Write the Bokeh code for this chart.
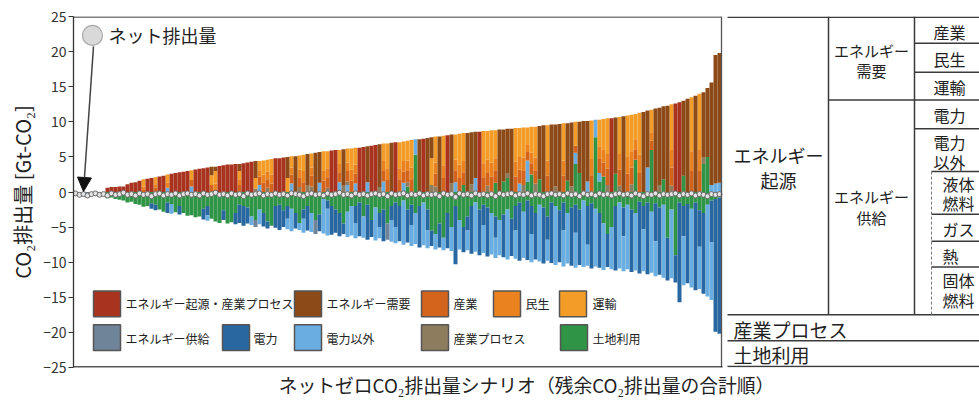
from bokeh.plotting import figure
from bokeh.models import Range1d, ColumnDataSource, FixedTicker, Arrow, NormalHead
from bokeh.embed import file_html
from bokeh.resources import INLINE
from bokeh.core.properties import value

FONT = "Noto Sans CJK JP"

# ---------------- data (Gt-CO2), scenarios sorted by residual emissions ----------------
# positive (residual) emissions
EIP = [0,0,0,0,0,0,0,0,.6,.7,
       .7,.8,.8,1.1,1.3,1.4,1.6,0,1.9,2.0,
       0,2.2,2.3,0,2.6,2.7,2.8,2.9,3.0,0,
       3.2,3.3,3.4,3.5,0,0,3.7,3.8,3.9,3.9,
       4.0,0,4.1,4.2,4.3,0,0,0,0,0,
       4.8,4.8,4.9,0,0,0,0,0,0,0,
       0,0,0,0,5.9,6.0,0,0,0,0,
       0,6.3,6.4,0,6.6,6.7,0,0,0,0,
       7.1,0,0,0,0,0,0,7.6,0,0,
       0,0,0,8.1,0,0,0,0,0,0,
       0,8.6,0,0,0,0,0,0,0,0,
       0,0,0,0,0,0,0,0,0,0,
       0,0,0,0,0,0,0,0,0,0,
       0,0,0,0,10.5,0,0,0,0,0,
       0,0,0,0,0,0,0,0,0,0,
       12.6,12.8,0,0,0,0,0,0,0,0,
       0,0]
ED = [0,0,0,0,0,0,0,0,0,0,
      0,0,0,0,0,0,0,0,0,0,
      0,0,0,0,0,0,0,0,0,0,
      0,0,0,0,1.2,.6,0,0,0,0,
      0,1.0,0,0,0,2.4,0,0,0,0,
      0,0,0,3.0,0,5.1,0,0,4.4,0,
      5.6,4.4,0,0,0,0,0,5.2,0,0,
      0,0,0,5.1,0,0,6.1,0,0,7.0,
      0,0,0,0,0,0,7.5,0,7.7,3.0,
      0,7.9,0,0,7.0,0,0,0,8.4,7.4,
      6.6,0,0,0,0,0,8.9,7.4,6.3,9.0,
      0,0,0,0,0,0,7.6,9.5,0,9.6,
      8.8,9.7,0,8.2,9.1,0,7.3,10.1,8.6,0,
      0,0,0,0,0,8.0,0,10.8,0,0,
      0,0,11.4,8.1,0,11.9,11.0,10.4,12.3,0,
      0,0,10.7,13.3,0,13.7,0,9.2,9.8,14.6,
      18.3,18.5]
IND = [0,0,0,0,0,0,0,0,0,0,
       0,0,0,0,0,0,0,.3,0,0,
       .6,0,0,0,0,0,0,0,0,.9,
       0,0,0,0,1.0,0,0,0,0,0,
       0,1.0,0,0,0,0,1.2,1.3,1.2,1.2,
       0,0,0,0,1.3,0,1.4,1.4,0,1.5,
       0,0,1.6,1.5,0,0,1.4,0,1.5,1.6,
       1.4,0,0,0,0,0,0,1.5,1.7,0,
       0,1.8,1.6,1.7,1.8,0,0,0,0,0,
       1.8,0,2.0,0,0,1.7,2.0,1.8,0,0,
       0,0,2.1,1.9,2.2,1.8,0,0,0,0,
       2.2,2.0,2.0,1.2,1.6,1.9,0,0,2.3,0,
       0,0,2.3,0,0,1.0,0,0,0,2.4,
       0,2.0,2.0,2.3,0,0,2.3,0,2.6,2.4,
       1.5,2.7,0,0,1.3,0,0,0,0,2.6,
       0,0,0,0,3.0,0,3.0,0,0,0,
       0,0]
RES = [0,0,0,0,0,0,0,0,0,0,
       0,0,0,0,0,0,0,.5,0,0,
       .5,0,0,.7,0,0,0,0,0,0,
       0,0,0,0,0,1.2,0,0,0,0,
       0,.8,0,0,0,0,.9,1.2,1.1,1.3,
       0,0,0,0,1.0,0,1.1,1.6,0,1.2,
       0,0,1.5,1.3,0,0,1.2,0,1.2,1.6,
       1.3,0,0,0,0,0,0,1.4,1.7,0,
       0,1.6,1.5,1.4,1.7,0,0,0,0,0,
       1.6,0,1.8,0,0,1.5,1.9,1.6,0,0,
       0,0,2.0,1.8,2.0,1.7,0,0,0,0,
       2.1,1.8,1.9,1.0,1.5,1.8,0,0,2.2,0,
       0,0,2.2,0,0,0,0,0,0,2.3,
       0,1.8,1.8,2.1,0,0,2.2,0,2.5,2.3,
       1.4,2.6,0,0,1.2,0,0,0,0,2.5,
       0,0,0,0,2.8,0,3.0,0,0,0,
       0,0]
TRA = [0,0,0,0,0,0,0,0,0,0,
       0,0,0,0,0,0,0,1.0,0,0,
       1.0,0,0,1.2,0,0,0,0,0,1.4,
       0,0,0,0,1.4,1.8,0,0,0,0,
       0,1.2,0,0,0,1.5,1.3,2.0,1.7,2.2,
       0,0,0,2.0,1.6,0,2.0,2.3,0,2.0,
       0,0,2.7,2.4,0,0,2.0,0,2.0,3.0,
       2.4,0,0,0,0,0,0,2.5,3.5,0,
       0,3.7,2.8,2.8,3.9,0,0,0,0,3.8,
       3.7,0,4.2,0,0,3.6,4.4,4.0,0,0,
       0,0,4.6,4.1,4.6,4.0,0,0,0,0,
       4.8,4.1,4.3,2.5,3.7,4.4,0,0,5.0,0,
       0,0,5.3,0,0,3.4,0,0,0,5.5,
       0,3.8,4.4,5.1,0,0,5.3,0,5.8,5.2,
       3.6,6.0,0,0,3.2,0,0,0,0,6.5,
       0,0,0,0,7.7,0,8.0,0,0,0,
       0,0]
IP = [0,0,0,0,0,0,0,0,0,0,
      0,0,0,0,0,0,0,0,0,0,
      0,0,0,0,0,0,0,0,0,0,
      0,0,0,0,0,0,0,0,0,0,
      0,0,0,0,0,.5,0,0,.6,0,
      0,0,0,0,0,0,.7,0,1.0,.8,
      0,0,0,.6,0,0,0,.9,.5,0,
      0,0,0,0,0,0,.7,0,0,0,
      0,0,0,.6,0,0,0,0,0,1.0,
      .8,0,0,0,1.2,0,0,0,0,1.1,
      0,0,0,.9,0,0,0,0,.7,0,
      0,0,1.0,0,0,1.2,0,0,0,0,
      .8,0,0,0,.8,0,0,0,0,0,
      0,0,0,1.0,0,0,.9,0,0,1.1,
      0,0,0,0,0,0,1.0,0,0,.9,
      0,0,0,0,0,0,0,1.0,0,0,
      0,0]
NEL_POS = [0,0,0,0,0,0,0,0,0,0,
           0,0,0,0,0,0,0,0,0,0,
           0,0,0,.6,0,0,0,0,0,.8,
           0,0,0,0,0,0,0,0,0,0,
           0,0,0,0,0,0,1.0,0,0,0,
           0,0,0,0,1.2,0,0,0,0,0,
           0,1.3,0,0,0,0,1.4,0,1.0,0,
           1.2,0,0,1.4,0,0,0,1.5,0,0,
           0,0,1.3,0,0,2.2,0,0,0,0,
           0,0,0,0,0,1.4,0,0,0,0,
           2.0,0,0,0,0,0,0,0,0,0,
           0,1.2,0,3.0,0,0,0,0,0,0,
           0,0,0,0,0,1.6,0,0,1.5,0,
           2.5,1.2,0,0,0,0,0,0,0,0,
           0,0,0,3.5,0,0,0,0,0,0,
           0,0,0,0,0,0,0,0,0,1.0,
           1.2,1.3]
LU_POS = [0,0,0,0,0,0,0,0,0,0,
          0,0,0,0,0,0,0,0,0,0,
          0,0,0,0,0,0,0,0,0,0,
          0,0,0,0,0,0,0,0,0,0,
          0,0,0,0,0,0,0,0,0,0,
          0,0,0,0,0,0,0,0,0,0,
          0,0,0,0,0,0,0,0,0,0,
          0,0,0,0,0,0,0,0,0,0,
          0,0,0,.8,0,5.3,0,0,0,0,
          0,0,0,0,0,0,0,1.0,0,0,
          0,0,0,0,0,1.3,0,1.5,2.0,0,
          0,0,0,1.5,2.5,0,1.8,0,0,0,
          0,0,0,1.6,0,4.0,2.7,0,0,0,
          7.8,1.5,2.2,0,0,2.6,0,0,0,0,
          4.6,0,0,0,6.0,0,0,1.8,0,0,
          0,0,2.3,0,0,0,0,4.0,5.0,0,
          0,0]
# removals (magnitudes, drawn below zero)
LU_NEG = [0,0,0,0,0,0,0,0,.9,.8,
          1.0,1.1,1.2,1.5,1.4,1.7,1.8,2.1,2.0,1.6,
          1.8,2.5,2.8,1.5,1.7,2.9,2.0,3.0,3.4,3.3,
          3.6,3.5,2.4,2.0,3.8,4.2,4.4,2.6,4.5,4.3,
          3.0,1.8,2.0,2.2,3.5,4.0,2.5,3.0,4.2,4.8,
          2.0,1.8,2.6,2.0,2.4,3.0,4.4,2.5,2.0,3.0,
          4.0,3.2,1.0,1.2,2.0,2.5,3.0,4.5,2.8,2.0,
          2.0,1.5,3.5,1.8,4.0,2.2,3.0,2.5,4.5,2.0,
          1.5,2.0,1.2,2.5,1.8,3.0,2.0,1.5,2.5,5.5,
          6.0,4.5,6.5,3.0,5.0,2.0,4.0,5.0,3.5,2.0,
          1.5,2.5,1.8,2.2,3.0,3.5,4.0,3.2,2.5,3.8,
          2.0,1.5,2.8,1.2,2.0,3.0,1.8,2.2,3.5,1.5,
          2.0,2.6,1.5,3.0,2.2,1.8,2.5,1.2,2.0,1.6,
          2.4,3.0,4.5,6.0,5.0,2.0,1.5,2.2,1.8,2.5,
          3.0,1.4,2.0,1.5,2.8,1.6,2.2,1.8,6.5,2.5,
          9.0,1.5,2.0,1.7,2.4,1.5,2.6,3.0,1.8,1.2,
          1.0,0.8]
ELC_NEG = [0,0,0,0,0,0,0,0,0,0,
           0,0,0,0,0,0,0,0,0,.8,
           .8,0,0,1.5,0,0,1.2,0,0,0,
           0,0,1.5,1.3,0,0,0,1.4,0,0,
           1.6,2.6,2.8,2.3,0,0,0,1.9,1.0,0,
           3.1,3.6,2.4,1.8,0,2.2,0,1.3,3.5,0,
           0,2.4,0,1.2,4.1,3.3,3.3,1.5,0,0,
           2.4,4.8,0,5.0,2.4,0,2.0,4.5,0,2.0,
           3.5,5.0,0,4.7,2.9,0,5.9,0,3.0,2.2,
           0,3.4,0,5.0,0,8.3,0,3.6,2.0,6.8,
           0,6.5,2.9,7.0,0,3.0,0,6.1,0,5.3,
           3.5,8.3,0,8.5,4.0,6.6,0,8.0,3.3,8.6,
           0,7.4,4.0,0,8.3,4.0,7.9,0,5.5,9.3,
           0,7.8,0,4.7,0,9.2,0,4.1,0,8.9,
           0,10.2,3.3,10.2,0,5.4,9.6,0,6.1,0,
           3.9,14.2,4.3,11.3,0,12.5,5.2,11.5,0,6.0,
           18.9,19.4]
NEL_NEG = [0,0,0,0,0,0,0,0,0,0,
           0,0,0,0,0,0,0,0,0,0,
           0,0,0,0,1.4,0,0,0,0,0,
           0,0,0,.8,0,0,0,0,0,0,
           0,0,0,0,1.2,0,2.1,0,0,0,
           0,0,0,1.5,3.2,0,1.0,2.0,0,2.7,
           0,0,4.9,3.8,0,0,0,0,3.6,4.2,
           2.2,0,3.0,0,0,4.7,1.6,0,0,3.1,
           2.3,0,6.3,0,3.0,4.4,0,6.1,2.5,0,
           2.2,0,1.8,0,3.4,0,4.2,0,2.8,0,
           7.0,0,4.0,0,5.9,2.9,5.0,0,7.1,0,
           4.0,0,6.6,0,4.0,0,8.1,0,3.0,0,
           8.4,0,5.1,7.2,0,5.0,0,9.5,3.0,0,
           8.2,0,6.6,0,6.0,0,9.4,5.0,9.2,0,
           8.2,0,6.0,0,8.7,5.0,0,10.4,0,9.8,
           0,0,7.0,0,11.2,0,6.0,0,13.1,8.2,
           0,0]
ES_NEG = [.4,.5,.5,.4,.5,.5,.6,.6,0,0,
          0,0,0,0,0,0,0,0,0,0,
          0,0,0,0,0,0,0,0,0,0,
          0,0,0,0,0,0,0,0,0,0,
          0,0,0,0,0,1.0,0,0,0,0,
          0,0,0,0,0,0,0,0,0,0,
          2.0,0,0,0,0,0,0,0,0,0,
          0,0,0,0,0,0,0,0,2.3,0,
          0,0,0,0,0,0,0,0,0,0,
          0,0,0,0,0,0,0,0,0,0,
          0,0,0,0,0,0,0,0,0,0,
          0,0,0,0,0,0,0,0,0,0,
          0,0,0,0,0,0,0,0,0,0,
          0,0,0,0,0,0,0,0,0,0,
          0,0,0,0,0,0,0,0,0,0,
          0,0,0,0,0,0,0,0,0,0,
          0,0]
NET = [-0.2,-0.4,-0.3,-0.5,-0.3,-0.2,-0.4,-0.3,-0.5,-0.2,
       -0.4,-0.3,-0.1,-0.4,-0.3,-0.5,-0.2,-0.4,-0.3,-0.6,
       -0.3,-0.2,-0.5,-0.3,-0.4,-0.2,-0.5,-0.3,-0.2,-0.4,
       -0.3,-0.5,-0.2,-0.4,-0.3,-0.1,-0.4,-0.3,-0.5,-0.2,
       -0.4,-0.3,-0.6,-0.2,-0.4,-0.3,-0.2,-0.5,-0.3,-0.4,
       -0.2,-0.4,-0.3,-0.5,-0.2,-0.3,-0.4,-0.6,-0.3,-0.2,
       -0.4,-0.3,-0.5,-0.2,-0.4,-0.3,-0.1,-0.4,-0.3,-0.5,
       -0.2,-0.4,-0.3,-0.5,-0.3,-0.2,-0.4,-0.3,-0.6,-0.2,
       -0.4,-0.3,-0.2,-0.5,-0.3,-0.4,-0.2,-0.5,-0.3,-0.4,
       -0.3,-0.6,-0.2,-0.4,-0.3,-0.7,-0.2,-0.4,-0.3,-0.5,
       -0.2,-0.4,-0.3,-0.5,-0.3,-0.6,-0.2,-0.4,-0.3,-0.2,
       -0.5,-0.3,-0.4,-0.2,-0.5,-0.3,-0.4,-0.6,-0.3,-0.2,
       -0.4,-0.3,-0.5,-0.2,-0.4,-0.3,-0.6,-0.2,-0.4,-0.3,
       -0.5,-0.2,-0.4,-0.3,-0.5,-0.3,-0.2,-0.4,-0.3,-0.5,
       -0.2,-0.4,-0.6,-0.3,-0.4,-0.2,-0.5,-0.3,-0.4,-0.3,
       -0.2,-0.5,-0.3,-0.4,-0.2,-0.5,-0.3,-0.4,-0.6,-0.3,
       -0.4,-0.3]

Y_TICKS = [-25, -20, -15, -10, -5, 0, 5, 10, 15, 20, 25]

LEGEND_ROW1 = ["エネルギー起源・産業プロセス", "エネルギー需要", "産業", "民生", "運輸"]
LEGEND_ROW2 = ["エネルギー供給", "電力", "電力以外", "産業プロセス", "土地利用"]

C_EIP, C_ED, C_IND, C_RES, C_TRA = "#a8341f", "#8b4a17", "#d4631b", "#e9821f", "#f39d28"
C_ES, C_ELC, C_NEL, C_IP, C_LU = "#6f8499", "#2867a0", "#6aade0", "#8e7c5f", "#2f9446"

N = len(NET)
for nm, arr in [("EIP", EIP), ("ED", ED), ("IND", IND), ("RES", RES), ("TRA", TRA), ("IP", IP),
                ("NEL_POS", NEL_POS), ("LU_POS", LU_POS), ("LU_NEG", LU_NEG), ("ELC_NEG", ELC_NEG),
                ("NEL_NEG", NEL_NEG), ("ES_NEG", ES_NEG)]:
    if len(arr) != N:
        raise ValueError(f"{nm} has {len(arr)} values, expected {N}")

# pixel helpers (layout only): frame spans page x 73..979, y 16..369
def X(px):
    return (px - 73) / 4.0 - 0.5

def Y(py):
    return 25 - (py - 16) * 50.0 / 353.0

src = ColumnDataSource(dict(
    x=list(range(N)),
    lu_p=LU_POS, nel_p=NEL_POS, ip=IP, ind=IND, res=RES, tra=TRA, ed=ED, eip=EIP,
    lu_n=[-v for v in LU_NEG], elc_n=[-v for v in ELC_NEG],
    nel_n=[-v for v in NEL_NEG], es_n=[-v for v in ES_NEG],
    net=NET,
))

p = figure(width=979, height=400, x_range=Range1d(X(73), X(979)), y_range=Range1d(-25, 25),
           output_backend="svg", toolbar_location=None,
           min_border_left=73, min_border_right=0, min_border_top=16, min_border_bottom=31)
p.outline_line_color = None
p.xgrid.grid_line_color = None
p.ygrid.grid_line_color = None
p.background_fill_color = "white"
p.border_fill_color = "white"

# axes
p.yaxis.ticker = FixedTicker(ticks=Y_TICKS)
p.yaxis.major_label_text_font = FONT
p.yaxis.major_label_text_font_size = "14px"
p.yaxis.major_label_text_color = "#333333"
p.yaxis.major_label_standoff = 2
p.yaxis.major_tick_out = 5
p.yaxis.major_tick_in = 0
p.yaxis.minor_tick_out = 0
p.yaxis.minor_tick_in = 0
p.yaxis.axis_line_color = "#333333"
p.yaxis.axis_line_width = 1.3
p.yaxis.major_tick_line_color = "#333333"
p.yaxis.axis_label = "CO₂排出量 [Gt-CO₂]"
p.yaxis.axis_label_text_font = FONT
p.yaxis.axis_label_text_font_style = "normal"
p.yaxis.axis_label_text_font_size = "20px"
p.yaxis.axis_label_text_color = "#222222"
p.yaxis.axis_label_standoff = 3

p.xaxis.ticker = FixedTicker(ticks=[])
p.xaxis.axis_line_color = None
p.xaxis.major_tick_line_color = None
p.xaxis.minor_tick_line_color = None
p.xaxis.axis_label = "ネットゼロCO₂排出量シナリオ（残余CO₂排出量の合計順）"
p.xaxis.axis_label_text_font = FONT
p.xaxis.axis_label_text_font_style = "normal"
p.xaxis.axis_label_text_font_size = "18.8px"
p.xaxis.axis_label_text_color = "#222222"
p.xaxis.axis_label_standoff = 3

# bars
pos_keys = ["lu_p", "nel_p", "ip", "ind", "res", "tra", "ed", "eip"]
pos_cols = [C_LU, C_NEL, C_IP, C_IND, C_RES, C_TRA, C_ED, C_EIP]
p.vbar_stack(pos_keys, x="x", width=1.0, source=src, fill_color=pos_cols, line_color=None)
neg_keys = ["lu_n", "elc_n", "nel_n", "es_n"]
neg_cols = [C_LU, C_ELC, C_NEL, C_ES]
p.vbar_stack(neg_keys, x="x", width=1.0, source=src, fill_color=neg_cols, line_color=None)

# net emissions
p.scatter("x", "net", source=src, size=5, fill_color="#e4e4e4", line_color="#6a6a6a", line_width=1)

# chart box lines
p.segment(x0=[X(73), X(721)], y0=[Y(16.5), Y(16)], x1=[X(721), X(721)], y1=[Y(16.5), Y(369)],
          line_color="#555555", line_width=1.3)
p.segment(x0=[X(73)], y0=[Y(368.5)], x1=[X(722)], y1=[Y(368.5)], line_color="#222222", line_width=1.6)

# annotation for net emissions
p.add_layout(Arrow(end=NormalHead(size=14, fill_color="#111111", line_color="#111111"),
                   x_start=X(93), y_start=Y(46), x_end=X(83), y_end=Y(192),
                   line_color="#444444", line_width=1.5))
p.scatter(x=[X(92)], y=[Y(35)], size=20, fill_color="#d9d9d9", line_color="#ababab", line_width=1.2)
p.text(x=[X(108)], y=[Y(35)], text=["ネット排出量"], text_font=value(FONT), text_font_size="18px",
       text_baseline="middle", text_align="left", text_color="#222222")

# legend (drawn manually)
sw_left = [93, 294, 421, 493, 559, 93, 222, 294, 421, 560]
sw_top = [292] * 5 + [326] * 5
sw_cols = [C_EIP, C_ED, C_IND, C_RES, C_TRA, C_ES, C_ELC, C_NEL, C_IP, C_LU]
p.quad(left=[X(v) for v in sw_left], right=[X(v + 27) for v in sw_left],
       top=[Y(v) for v in sw_top], bottom=[Y(v + 26) for v in sw_top],
       fill_color=sw_cols, line_color="#555555", line_width=1.5)
lt_x = [125, 326, 453, 525, 592, 125, 253, 326, 453, 592]
lt_y = [305] * 5 + [340] * 5
p.text(x=[X(v) for v in lt_x], y=[Y(v) for v in lt_y], text=LEGEND_ROW1 + LEGEND_ROW2,
       text_font=value(FONT), text_font_size="12px", text_baseline="middle", text_align="left",
       text_color="#222222")

# category table on the right
hx0 = [727, 914, 914, 828, 914, 931, 931, 931, 931, 727, 727, 727]
hx1 = [979] * 12
hy = [16.8, 43, 72, 100, 129, 172, 215, 242, 268, 316, 342, 368]
p.segment(x0=[X(v) for v in hx0], x1=[X(v) for v in hx1], y0=[Y(v) for v in hy], y1=[Y(v) for v in hy],
          line_color="#3a3a3a", line_width=1.5)
vx = [828, 914]
p.segment(x0=[X(v) for v in vx], x1=[X(v) for v in vx], y0=[Y(16)] * 2, y1=[Y(316)] * 2,
          line_color="#3a3a3a", line_width=1.5)
p.segment(x0=[X(931)], x1=[X(931)], y0=[Y(172)], y1=[Y(316)], line_color="#777777",
          line_width=1.0, line_dash="3 2")

def table_text(xs, ys, texts, size, align):
    p.text(x=[X(v) for v in xs], y=[Y(v) for v in ys], text=texts, text_font=value(FONT),
           text_font_size=size, text_baseline="middle", text_align=align, text_color="#222222")

table_text([778, 778], [155, 180], ["エネルギー", "起源"], "18px", "center")
table_text([871, 871, 871, 871], [50, 70, 197, 218], ["エネルギー", "需要", "エネルギー", "供給"], "15px", "center")
table_text([933] * 6, [32, 59, 87, 115, 142, 162], ["産業", "民生", "運輸", "電力", "電力", "以外"], "16px", "left")
table_text([942] * 6, [184, 204, 230, 257, 281, 301], ["液体", "燃料", "ガス", "熱", "固体", "燃料"], "16px", "left")
table_text([733, 733], [331, 356], ["産業プロセス", "土地利用"], "19px", "left")

open("out.html", "w").write(file_html(p, INLINE))
